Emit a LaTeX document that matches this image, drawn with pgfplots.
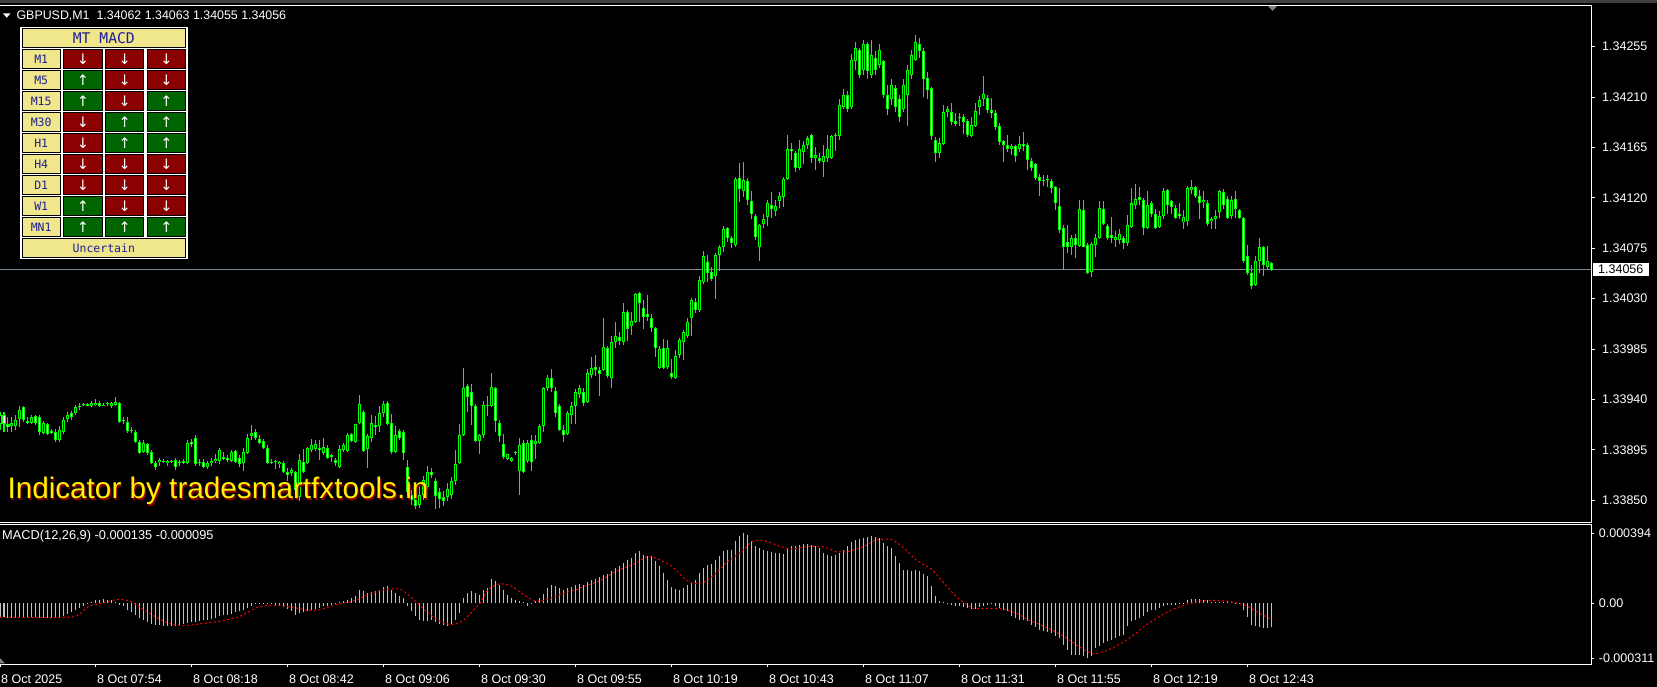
\documentclass[border=0pt]{standalone}
\usepackage{pgfplots}
\pgfplotsset{compat=1.18}
\usepackage{pgfplotstable}
\usepackage{fontspec}
\setmainfont{Liberation Sans}
\newfontfamily\monofont{DejaVu Sans Mono}
\newfontfamily\symfont{DejaVu Sans}
\definecolor{candle}{RGB}{0,255,0}
\definecolor{histo}{RGB}{192,192,192}
\definecolor{pline}{RGB}{119,136,153}
\definecolor{khaki}{RGB}{240,230,140}
\definecolor{dred}{RGB}{139,0,0}
\definecolor{dgreen}{RGB}{0,100,0}
\definecolor{navytxt}{RGB}{30,30,150}
\definecolor{wmshadow}{RGB}{150,0,0}
\definecolor{marker}{RGB}{128,128,128}

\pgfplotstableread{
i o h l c
0 1.33918 1.33929 1.33913 1.33926
1 1.33926 1.33929 1.33911 1.33918
2 1.33918 1.33924 1.33911 1.33915
3 1.33916 1.33924 1.33911 1.33919
4 1.33916 1.33926 1.33913 1.33922
5 1.33923 1.33934 1.33915 1.33931
6 1.33933 1.33934 1.33920 1.33922
7 1.33921 1.33924 1.33918 1.33919
8 1.33919 1.33926 1.33918 1.33924
9 1.33925 1.33926 1.33917 1.33919
10 1.33924 1.33926 1.33908 1.33911
11 1.33910 1.33921 1.33909 1.33919
12 1.33918 1.33919 1.33908 1.33909
13 1.33912 1.33914 1.33909 1.33910
14 1.33911 1.33914 1.33902 1.33904
15 1.33904 1.33916 1.33902 1.33913
16 1.33911 1.33924 1.33909 1.33922
17 1.33923 1.33929 1.33920 1.33926
18 1.33928 1.33930 1.33922 1.33924
19 1.33928 1.33935 1.33926 1.33933
20 1.33933 1.33937 1.33931 1.33934
21 1.33935 1.33937 1.33934 1.33936
22 1.33936 1.33937 1.33934 1.33934
23 1.33934 1.33939 1.33933 1.33937
24 1.33935 1.33940 1.33934 1.33937
25 1.33937 1.33939 1.33933 1.33934
26 1.33934 1.33937 1.33934 1.33935
27 1.33936 1.33938 1.33934 1.33935
28 1.33934 1.33938 1.33932 1.33937
29 1.33935 1.33942 1.33934 1.33938
30 1.33937 1.33938 1.33919 1.33920
31 1.33921 1.33924 1.33918 1.33922
32 1.33920 1.33924 1.33910 1.33912
33 1.33912 1.33915 1.33910 1.33913
34 1.33911 1.33913 1.33901 1.33902
35 1.33902 1.33904 1.33891 1.33892
36 1.33893 1.33904 1.33892 1.33901
37 1.33900 1.33901 1.33890 1.33892
38 1.33893 1.33895 1.33882 1.33883
39 1.33883 1.33885 1.33877 1.33880
40 1.33884 1.33888 1.33881 1.33886
41 1.33885 1.33887 1.33883 1.33884
42 1.33883 1.33886 1.33881 1.33885
43 1.33884 1.33886 1.33883 1.33885
44 1.33886 1.33888 1.33877 1.33880
45 1.33883 1.33886 1.33881 1.33884
46 1.33885 1.33887 1.33882 1.33883
47 1.33883 1.33904 1.33882 1.33901
48 1.33902 1.33905 1.33898 1.33900
49 1.33906 1.33908 1.33881 1.33882
50 1.33883 1.33887 1.33881 1.33884
51 1.33884 1.33887 1.33879 1.33880
52 1.33880 1.33885 1.33878 1.33883
53 1.33883 1.33888 1.33881 1.33885
54 1.33885 1.33891 1.33883 1.33887
55 1.33885 1.33897 1.33882 1.33895
56 1.33889 1.33893 1.33886 1.33887
57 1.33888 1.33890 1.33884 1.33886
58 1.33885 1.33895 1.33884 1.33893
59 1.33894 1.33895 1.33883 1.33884
60 1.33888 1.33890 1.33880 1.33882
61 1.33883 1.33897 1.33876 1.33893
62 1.33892 1.33909 1.33891 1.33906
63 1.33907 1.33917 1.33904 1.33910
64 1.33911 1.33914 1.33904 1.33906
65 1.33905 1.33908 1.33900 1.33901
66 1.33903 1.33905 1.33896 1.33897
67 1.33897 1.33899 1.33882 1.33883
68 1.33883 1.33887 1.33882 1.33884
69 1.33884 1.33886 1.33878 1.33883
70 1.33882 1.33885 1.33879 1.33884
71 1.33883 1.33885 1.33874 1.33875
72 1.33875 1.33879 1.33867 1.33873
73 1.33874 1.33879 1.33872 1.33877
74 1.33875 1.33876 1.33852 1.33859
75 1.33853 1.33891 1.33849 1.33886
76 1.33884 1.33896 1.33874 1.33875
77 1.33883 1.33898 1.33882 1.33897
78 1.33895 1.33905 1.33893 1.33899
79 1.33896 1.33904 1.33894 1.33900
80 1.33897 1.33904 1.33886 1.33895
81 1.33892 1.33906 1.33890 1.33898
82 1.33897 1.33899 1.33887 1.33888
83 1.33889 1.33891 1.33884 1.33888
84 1.33886 1.33888 1.33881 1.33883
85 1.33880 1.33899 1.33879 1.33896
86 1.33895 1.33901 1.33893 1.33899
87 1.33894 1.33910 1.33893 1.33908
88 1.33909 1.33910 1.33902 1.33903
89 1.33902 1.33918 1.33901 1.33918
90 1.33919 1.33944 1.33918 1.33936
91 1.33929 1.33931 1.33893 1.33894
92 1.33896 1.33909 1.33879 1.33907
93 1.33906 1.33926 1.33902 1.33919
94 1.33917 1.33925 1.33908 1.33915
95 1.33916 1.33934 1.33911 1.33928
96 1.33928 1.33939 1.33924 1.33936
97 1.33937 1.33939 1.33917 1.33918
98 1.33919 1.33927 1.33891 1.33893
99 1.33893 1.33916 1.33892 1.33908
100 1.33912 1.33914 1.33904 1.33906
101 1.33911 1.33913 1.33886 1.33892
102 1.33880 1.33886 1.33855 1.33857
103 1.33855 1.33859 1.33846 1.33850
104 1.33855 1.33857 1.33842 1.33845
105 1.33846 1.33863 1.33843 1.33855
106 1.33855 1.33872 1.33850 1.33868
107 1.33862 1.33881 1.33860 1.33875
108 1.33875 1.33879 1.33870 1.33873
109 1.33867 1.33870 1.33842 1.33854
110 1.33857 1.33861 1.33843 1.33851
111 1.33853 1.33858 1.33845 1.33849
112 1.33853 1.33865 1.33849 1.33860
113 1.33855 1.33871 1.33851 1.33867
114 1.33867 1.33895 1.33864 1.33882
115 1.33883 1.33918 1.33882 1.33908
116 1.33908 1.33968 1.33907 1.33950
117 1.33952 1.33954 1.33929 1.33942
118 1.33947 1.33954 1.33917 1.33934
119 1.33934 1.33936 1.33902 1.33903
120 1.33903 1.33909 1.33891 1.33908
121 1.33908 1.33939 1.33906 1.33935
122 1.33935 1.33943 1.33925 1.33934
123 1.33934 1.33964 1.33933 1.33951
124 1.33950 1.33951 1.33911 1.33921
125 1.33919 1.33922 1.33902 1.33907
126 1.33900 1.33909 1.33887 1.33889
127 1.33887 1.33891 1.33886 1.33891
128 1.33885 1.33889 1.33884 1.33888
129 1.33892 1.33894 1.33890 1.33892
130 1.33876 1.33906 1.33855 1.33899
131 1.33901 1.33904 1.33874 1.33875
132 1.33885 1.33904 1.33883 1.33901
133 1.33904 1.33908 1.33876 1.33884
134 1.33900 1.33908 1.33887 1.33903
135 1.33901 1.33918 1.33900 1.33916
136 1.33916 1.33951 1.33911 1.33950
137 1.33950 1.33962 1.33948 1.33959
138 1.33959 1.33967 1.33947 1.33950
139 1.33948 1.33951 1.33924 1.33928
140 1.33934 1.33936 1.33912 1.33913
141 1.33913 1.33917 1.33902 1.33908
142 1.33909 1.33930 1.33908 1.33928
143 1.33926 1.33938 1.33918 1.33934
144 1.33934 1.33949 1.33918 1.33947
145 1.33945 1.33953 1.33941 1.33950
146 1.33947 1.33950 1.33934 1.33937
147 1.33938 1.33967 1.33937 1.33964
148 1.33962 1.33978 1.33959 1.33968
149 1.33969 1.33980 1.33961 1.33966
150 1.33966 1.33969 1.33943 1.33963
151 1.33966 1.34013 1.33965 1.33987
152 1.33986 1.33988 1.33959 1.33961
153 1.33959 1.33997 1.33950 1.33991
154 1.33991 1.34009 1.33986 1.33997
155 1.33996 1.34000 1.33989 1.33992
156 1.33991 1.34026 1.33989 1.34018
157 1.34018 1.34020 1.33992 1.34003
158 1.34006 1.34018 1.33998 1.34010
159 1.34009 1.34035 1.34008 1.34034
160 1.34035 1.34036 1.34009 1.34026
161 1.34022 1.34029 1.34003 1.34014
162 1.34016 1.34033 1.34010 1.34014
163 1.34013 1.34016 1.34000 1.34004
164 1.34004 1.34005 1.33978 1.33986
165 1.33968 1.33988 1.33967 1.33985
166 1.33986 1.33994 1.33967 1.33968
167 1.33969 1.33993 1.33967 1.33986
168 1.33964 1.33976 1.33958 1.33960
169 1.33959 1.33984 1.33958 1.33979
170 1.33980 1.33995 1.33977 1.33993
171 1.33991 1.34002 1.33975 1.34000
172 1.33997 1.34013 1.33995 1.34009
173 1.34013 1.34031 1.33997 1.34029
174 1.34027 1.34031 1.34017 1.34020
175 1.34020 1.34050 1.34018 1.34047
176 1.34045 1.34073 1.34043 1.34068
177 1.34063 1.34069 1.34045 1.34053
178 1.34054 1.34058 1.34046 1.34048
179 1.34050 1.34071 1.34030 1.34069
180 1.34069 1.34078 1.34055 1.34076
181 1.34076 1.34095 1.34072 1.34092
182 1.34093 1.34094 1.34081 1.34084
183 1.34084 1.34086 1.34075 1.34080
184 1.34078 1.34139 1.34076 1.34137
185 1.34138 1.34151 1.34116 1.34128
186 1.34126 1.34152 1.34121 1.34136
187 1.34135 1.34138 1.34114 1.34118
188 1.34117 1.34126 1.34101 1.34106
189 1.34104 1.34106 1.34082 1.34085
190 1.34076 1.34097 1.34064 1.34096
191 1.34097 1.34106 1.34093 1.34101
192 1.34103 1.34118 1.34095 1.34115
193 1.34114 1.34125 1.34102 1.34110
194 1.34108 1.34118 1.34104 1.34113
195 1.34117 1.34125 1.34111 1.34122
196 1.34121 1.34139 1.34112 1.34137
197 1.34137 1.34176 1.34136 1.34164
198 1.34164 1.34169 1.34154 1.34162
199 1.34160 1.34162 1.34143 1.34147
200 1.34147 1.34172 1.34145 1.34164
201 1.34161 1.34171 1.34150 1.34167
202 1.34167 1.34175 1.34164 1.34173
203 1.34176 1.34177 1.34151 1.34156
204 1.34156 1.34165 1.34145 1.34158
205 1.34156 1.34160 1.34151 1.34153
206 1.34152 1.34167 1.34139 1.34157
207 1.34156 1.34176 1.34152 1.34164
208 1.34156 1.34176 1.34155 1.34175
209 1.34175 1.34178 1.34162 1.34176
210 1.34175 1.34208 1.34172 1.34203
211 1.34201 1.34217 1.34199 1.34212
212 1.34212 1.34215 1.34197 1.34199
213 1.34201 1.34248 1.34199 1.34243
214 1.34242 1.34259 1.34234 1.34254
215 1.34252 1.34254 1.34227 1.34230
216 1.34234 1.34261 1.34230 1.34257
217 1.34257 1.34259 1.34226 1.34233
218 1.34230 1.34261 1.34227 1.34248
219 1.34245 1.34251 1.34230 1.34234
220 1.34239 1.34257 1.34236 1.34252
221 1.34242 1.34243 1.34209 1.34212
222 1.34212 1.34221 1.34194 1.34199
223 1.34208 1.34226 1.34203 1.34221
224 1.34218 1.34221 1.34197 1.34201
225 1.34208 1.34212 1.34188 1.34192
226 1.34199 1.34226 1.34197 1.34221
227 1.34212 1.34239 1.34184 1.34234
228 1.34230 1.34252 1.34226 1.34248
229 1.34243 1.34265 1.34242 1.34259
230 1.34257 1.34263 1.34245 1.34251
231 1.34251 1.34254 1.34210 1.34226
232 1.34227 1.34232 1.34208 1.34216
233 1.34218 1.34219 1.34172 1.34175
234 1.34172 1.34174 1.34152 1.34160
235 1.34160 1.34173 1.34156 1.34169
236 1.34168 1.34203 1.34167 1.34197
237 1.34197 1.34202 1.34192 1.34199
238 1.34197 1.34205 1.34185 1.34188
239 1.34189 1.34196 1.34184 1.34186
240 1.34191 1.34196 1.34184 1.34192
241 1.34192 1.34195 1.34177 1.34188
242 1.34189 1.34190 1.34174 1.34176
243 1.34175 1.34192 1.34174 1.34185
244 1.34184 1.34205 1.34183 1.34198
245 1.34201 1.34211 1.34194 1.34207
246 1.34208 1.34229 1.34202 1.34213
247 1.34209 1.34212 1.34196 1.34198
248 1.34198 1.34209 1.34191 1.34196
249 1.34196 1.34198 1.34181 1.34183
250 1.34184 1.34187 1.34167 1.34170
251 1.34171 1.34172 1.34152 1.34167
252 1.34167 1.34176 1.34161 1.34164
253 1.34164 1.34168 1.34158 1.34166
254 1.34166 1.34167 1.34152 1.34157
255 1.34164 1.34175 1.34161 1.34168
256 1.34168 1.34179 1.34162 1.34166
257 1.34167 1.34169 1.34145 1.34154
258 1.34153 1.34156 1.34144 1.34147
259 1.34150 1.34151 1.34136 1.34138
260 1.34139 1.34141 1.34122 1.34135
261 1.34135 1.34140 1.34131 1.34136
262 1.34136 1.34140 1.34130 1.34135
263 1.34135 1.34137 1.34124 1.34129
264 1.34130 1.34131 1.34109 1.34115
265 1.34113 1.34129 1.34089 1.34091
266 1.34093 1.34096 1.34056 1.34076
267 1.34081 1.34096 1.34071 1.34076
268 1.34076 1.34087 1.34069 1.34084
269 1.34084 1.34088 1.34066 1.34078
270 1.34077 1.34118 1.34076 1.34110
271 1.34109 1.34118 1.34076 1.34076
272 1.34078 1.34080 1.34052 1.34053
273 1.34054 1.34081 1.34049 1.34079
274 1.34078 1.34088 1.34067 1.34084
275 1.34084 1.34117 1.34083 1.34111
276 1.34110 1.34117 1.34096 1.34097
277 1.34095 1.34097 1.34082 1.34084
278 1.34087 1.34103 1.34080 1.34084
279 1.34082 1.34090 1.34076 1.34085
280 1.34082 1.34092 1.34079 1.34088
281 1.34084 1.34086 1.34074 1.34080
282 1.34080 1.34105 1.34077 1.34096
283 1.34094 1.34129 1.34093 1.34115
284 1.34114 1.34132 1.34110 1.34119
285 1.34121 1.34130 1.34114 1.34118
286 1.34118 1.34120 1.34087 1.34093
287 1.34093 1.34126 1.34092 1.34114
288 1.34115 1.34117 1.34103 1.34106
289 1.34106 1.34110 1.34092 1.34093
290 1.34094 1.34108 1.34093 1.34104
291 1.34104 1.34129 1.34101 1.34126
292 1.34127 1.34128 1.34106 1.34114
293 1.34117 1.34118 1.34106 1.34112
294 1.34111 1.34114 1.34101 1.34102
295 1.34106 1.34115 1.34101 1.34104
296 1.34098 1.34109 1.34092 1.34103
297 1.34099 1.34131 1.34095 1.34129
298 1.34127 1.34136 1.34123 1.34130
299 1.34130 1.34131 1.34120 1.34122
300 1.34122 1.34127 1.34101 1.34115
301 1.34116 1.34126 1.34111 1.34118
302 1.34115 1.34118 1.34095 1.34097
303 1.34099 1.34103 1.34092 1.34101
304 1.34101 1.34109 1.34092 1.34104
305 1.34107 1.34127 1.34102 1.34126
306 1.34125 1.34128 1.34110 1.34114
307 1.34119 1.34122 1.34101 1.34102
308 1.34104 1.34122 1.34101 1.34118
309 1.34119 1.34126 1.34102 1.34110
310 1.34109 1.34110 1.34101 1.34102
311 1.34102 1.34103 1.34062 1.34064
312 1.34068 1.34078 1.34051 1.34053
313 1.34053 1.34060 1.34039 1.34041
314 1.34042 1.34068 1.34041 1.34064
315 1.34064 1.34084 1.34053 1.34076
316 1.34076 1.34077 1.34050 1.34060
317 1.34058 1.34077 1.34056 1.34064
318 1.34062 1.34063 1.34055 1.34056
}\candles

\pgfplotstableread{
i v
0 -80e-6
1 -81e-6
2 -82e-6
3 -82e-6
4 -83e-6
5 -80e-6
6 -80e-6
7 -80e-6
8 -79e-6
9 -79e-6
10 -82e-6
11 -83e-6
12 -84e-6
13 -84e-6
14 -85e-6
15 -84e-6
16 -72e-6
17 -60e-6
18 -50e-6
19 -38e-6
20 -26e-6
21 -14e-6
22 -6e-6
23 8e-6
24 15e-6
25 19e-6
26 23e-6
27 19e-6
28 15e-6
29 8e-6
30 -9e-6
31 -19e-6
32 -38e-6
33 -53e-6
34 -66e-6
35 -85e-6
36 -98e-6
37 -109e-6
38 -117e-6
39 -122e-6
40 -126e-6
41 -128e-6
42 -132e-6
43 -132e-6
44 -128e-6
45 -124e-6
46 -120e-6
47 -113e-6
48 -109e-6
49 -105e-6
50 -102e-6
51 -98e-6
52 -94e-6
53 -88e-6
54 -85e-6
55 -75e-6
56 -70e-6
57 -66e-6
58 -60e-6
59 -53e-6
60 -47e-6
61 -41e-6
62 -28e-6
63 -15e-6
64 -8e-6
65 -4e-6
66 -2e-6
67 -6e-6
68 -8e-6
69 -11e-6
70 -15e-6
71 -23e-6
72 -34e-6
73 -47e-6
74 -66e-6
75 -56e-6
76 -53e-6
77 -47e-6
78 -41e-6
79 -34e-6
80 -26e-6
81 -19e-6
82 -15e-6
83 -11e-6
84 -6e-6
85 4e-6
86 9e-6
87 19e-6
88 28e-6
89 38e-6
90 71e-6
91 66e-6
92 56e-6
93 60e-6
94 66e-6
95 75e-6
96 90e-6
97 94e-6
98 75e-6
99 56e-6
100 41e-6
101 28e-6
102 -19e-6
103 -47e-6
104 -75e-6
105 -94e-6
106 -103e-6
107 -103e-6
108 -98e-6
109 -109e-6
110 -117e-6
111 -124e-6
112 -128e-6
113 -117e-6
114 -94e-6
115 -56e-6
116 28e-6
117 56e-6
118 66e-6
119 56e-6
120 47e-6
121 75e-6
122 85e-6
123 135e-6
124 122e-6
125 103e-6
126 75e-6
127 47e-6
128 28e-6
129 19e-6
130 9e-6
131 6e-6
132 -15e-6
133 -4e-6
134 9e-6
135 28e-6
136 53e-6
137 85e-6
138 103e-6
139 98e-6
140 85e-6
141 75e-6
142 85e-6
143 90e-6
144 103e-6
145 109e-6
146 103e-6
147 117e-6
148 128e-6
149 135e-6
150 147e-6
151 160e-6
152 165e-6
153 179e-6
154 197e-6
155 207e-6
156 226e-6
157 241e-6
158 254e-6
159 282e-6
160 291e-6
161 273e-6
162 267e-6
163 263e-6
164 235e-6
165 207e-6
166 169e-6
167 132e-6
168 90e-6
169 79e-6
170 75e-6
171 85e-6
172 103e-6
173 113e-6
174 132e-6
175 169e-6
176 197e-6
177 216e-6
178 222e-6
179 244e-6
180 263e-6
181 291e-6
182 297e-6
183 301e-6
184 348e-6
185 376e-6
186 394e-6
187 385e-6
188 348e-6
189 320e-6
190 310e-6
191 301e-6
192 291e-6
193 286e-6
194 282e-6
195 282e-6
196 278e-6
197 310e-6
198 320e-6
199 323e-6
200 329e-6
201 333e-6
202 335e-6
203 329e-6
204 323e-6
205 310e-6
206 282e-6
207 273e-6
208 267e-6
209 273e-6
210 282e-6
211 301e-6
212 320e-6
213 342e-6
214 357e-6
215 361e-6
216 367e-6
217 372e-6
218 376e-6
219 370e-6
220 367e-6
221 338e-6
222 320e-6
223 310e-6
224 263e-6
225 226e-6
226 188e-6
227 184e-6
228 179e-6
229 188e-6
230 179e-6
231 165e-6
232 150e-6
233 94e-6
234 38e-6
235 9e-6
236 4e-6
237 -6e-6
238 -9e-6
239 -15e-6
240 -19e-6
241 -23e-6
242 -28e-6
243 -34e-6
244 -32e-6
245 -23e-6
246 -15e-6
247 -9e-6
248 -6e-6
249 -15e-6
250 -28e-6
251 -38e-6
252 -47e-6
253 -71e-6
254 -85e-6
255 -94e-6
256 -98e-6
257 -103e-6
258 -122e-6
259 -135e-6
260 -150e-6
261 -160e-6
262 -165e-6
263 -169e-6
264 -184e-6
265 -197e-6
266 -235e-6
267 -263e-6
268 -291e-6
269 -295e-6
270 -291e-6
271 -300e-6
272 -311e-6
273 -300e-6
274 -254e-6
275 -241e-6
276 -226e-6
277 -216e-6
278 -207e-6
279 -197e-6
280 -188e-6
281 -179e-6
282 -132e-6
283 -103e-6
284 -94e-6
285 -85e-6
286 -75e-6
287 -51e-6
288 -41e-6
289 -38e-6
290 -28e-6
291 -19e-6
292 -13e-6
293 -9e-6
294 -9e-6
295 -6e-6
296 -4e-6
297 15e-6
298 23e-6
299 23e-6
300 23e-6
301 19e-6
302 15e-6
303 8e-6
304 6e-6
305 6e-6
306 4e-6
307 4e-6
308 4e-6
309 2e-6
310 2e-6
311 -38e-6
312 -81e-6
313 -122e-6
314 -132e-6
315 -135e-6
316 -141e-6
317 -143e-6
318 -135e-6
}\macd

\newcommand{\acell}[3]{%
  \if u#1\def\cf{dgreen}\def\sy{↑}\else\def\cf{dred}\def\sy{↓}\fi
  \filldraw[fill=\cf, draw=black, line width=1pt] (#2,\yb) rectangle (#3,\yt);
  \node[text=white, inner sep=0pt, font=\symfont\fontsize{14.5}{15}\selectfont] at ({(#2+#3)/2},\ym) {\sy};
}

\begin{document}
\begin{tikzpicture}[x=1pt,y=1pt]
\fill[black] (0,0) rectangle (1657,687);
\fill[black!75] (0,684) rectangle (1657,687);

% ---------------- price panel ----------------
\begin{axis}[
  name=main, at={(0pt,165pt)}, anchor=south west,
  scale only axis, width=1591pt, height=517pt,
  xmin=0, xmax=397.75, ymin=1.338306, ymax=1.342922,
  axis line style={draw=none},
  xtick=\empty,
  ytick={1.33850,1.33895,1.33940,1.33985,1.34030,1.34075,1.34120,1.34165,1.34210,1.34255},
  yticklabels={1.33850,1.33895,1.33940,1.33985,1.34030,1.34075,1.34120,1.34165,1.34210,1.34255},
  ytick pos=right, yticklabel pos=right,
  tick align=outside, major tick length=4pt,
  tick style={white, line width=1pt},
  yticklabel style={anchor=west, inner sep=0pt, xshift=7pt, text=white, font=\fontsize{12.5}{15}\selectfont},
  scaled y ticks=false,
  extra y ticks={1.34056}, extra y tick labels={1.34056},
  extra y tick style={major tick length=0pt, grid=major, grid style={pline, line width=1pt},
     yticklabel style={fill=white, text=black, inner xsep=5.3pt, inner ysep=1.7pt, xshift=-5.3pt}},
]
\addplot [draw=none, mark=none, forget plot, error bars/.cd, y dir=plus, y explicit, error mark=none,
  error bar style={draw=candle, line width=1pt}]
  table [x=i, y=l, y error plus expr={\thisrow{h}-\thisrow{l}}] {\candles};
\addplot [draw=none, mark=none, forget plot, error bars/.cd, y dir=plus, y explicit, error mark=none,
  error bar style={draw=candle, line width=3pt}]
  table [x=i, y expr={min(\thisrow{o},\thisrow{c})}, y error plus expr={max(abs(\thisrow{c}-\thisrow{o}),0.000009)}] {\candles};
\addplot [draw=none, mark=none, forget plot, error bars/.cd, y dir=plus, y explicit, error mark=none,
  error bar style={draw=white, line width=1pt}]
  table [x=i, y expr={\thisrow{c}+0.000009}, y error plus expr={max(0,\thisrow{o}-\thisrow{c}-0.000018)}] {\candles};
\addplot [draw=none, mark=none, forget plot, error bars/.cd, y dir=plus, y explicit, error mark=none,
  error bar style={draw=black, line width=1pt}]
  table [x=i, y expr={\thisrow{o}+0.000009}, y error plus expr={max(0,\thisrow{c}-\thisrow{o}-0.000018)}] {\candles};
\end{axis}

% ---------------- MACD panel ----------------
\begin{axis}[
  name=macd, at={(0pt,23pt)}, anchor=south west,
  scale only axis, width=1591pt, height=140pt,
  xmin=0, xmax=397.75, ymin=-0.000344, ymax=0.000446,
  axis line style={draw=none},
  xtick={0,24,...,312},
  xticklabels={8 Oct 2025,8 Oct 07:54,8 Oct 08:18,8 Oct 08:42,8 Oct 09:06,8 Oct 09:30,8 Oct 09:55,8 Oct 10:19,8 Oct 10:43,8 Oct 11:07,8 Oct 11:31,8 Oct 11:55,8 Oct 12:19,8 Oct 12:43},
  xtick pos=bottom, xticklabel pos=bottom,
  xticklabel style={anchor=north west, inner sep=0pt, xshift=1pt, yshift=-7.4pt, text=white, font=\fontsize{12.5}{15}\selectfont},
  ytick={-0.000311,0,0.000394},
  yticklabels={-0.000311,0.00,0.000394},
  ytick pos=right, yticklabel pos=right,
  yticklabel style={anchor=west, inner sep=0pt, xshift=4.7pt, text=white, font=\fontsize{12.5}{15}\selectfont},
  scaled y ticks=false,
  tick align=outside, major tick length=3pt,
  tick style={white, line width=1pt},
]
\addplot [ycomb, draw=histo, line width=1pt, mark=none] table [x=i, y=v] {\macd};
\addplot [red, line width=1pt, dash pattern=on 2pt off 2.5pt, smooth, tension=0.4, mark=none] coordinates {
(0,-79e-6) (18,-79e-6) (22,-19e-6) (25,-4e-6) (29,19e-6) (32,15e-6) (34,-9e-6) (38,-66e-6)
(42,-113e-6) (46,-128e-6) (50,-117e-6) (55,-103e-6) (60,-75e-6) (65,-19e-6) (70,-15e-6)
(74,-28e-6) (77,-41e-6) (80,-38e-6) (84,-9e-6) (88,9e-6) (92,47e-6) (96,75e-6) (100,79e-6)
(103,28e-6) (107,-56e-6) (110,-103e-6) (113,-122e-6) (116,-94e-6) (120,0) (122,75e-6)
(125,109e-6) (128,94e-6) (131,47e-6) (134,9e-6) (137,23e-6) (141,56e-6) (144,75e-6)
(147,103e-6) (150,125e-6) (154,179e-6) (159,226e-6) (162,263e-6) (164,254e-6) (168,207e-6)
(171,141e-6) (173,113e-6) (176,117e-6) (179,169e-6) (182,235e-6) (186,301e-6) (188,348e-6)
(191,353e-6) (195,320e-6) (198,305e-6) (202,320e-6) (206,316e-6) (209,291e-6) (212,291e-6)
(216,320e-6) (219,357e-6) (223,357e-6) (226,310e-6) (229,244e-6) (233,188e-6) (236,113e-6)
(239,38e-6) (243,-28e-6) (246,-30e-6) (250,-32e-6) (254,-56e-6) (257,-94e-6) (262,-141e-6)
(266,-188e-6) (269,-235e-6) (273,-286e-6) (276,-273e-6) (279,-244e-6) (283,-188e-6)
(286,-132e-6) (290,-75e-6) (293,-38e-6) (296,-13e-6) (300,11e-6) (304,15e-6) (307,9e-6)
(311,-9e-6) (314,-47e-6) (318,-95e-6)};
\end{axis}

% frames
\draw[white, line width=1pt] (0,681.7) -- (1591,681.7) -- (1591,164.7) -- (0,164.7);
\draw[white, line width=1pt] (0,162.7) -- (1591,162.7) -- (1591,22.7) -- (0,22.7);
% chart shift markers
\fill[marker] (1268,681) -- (1277,681) -- (1272.5,676) -- cycle;
\fill[marker] (0,23.5) -- (5,23.5) -- (0,29) -- cycle;

% header texts
\fill[white] (3,673.7) -- (10.5,673.7) -- (6.75,669.3) -- cycle;
\node[anchor=base west, inner sep=0pt, text=white, font=\fontsize{12.4}{15}\selectfont] at (16.4,667)
  {GBPUSD,M1\ \ 1.34062 1.34063 1.34055 1.34056};
\node[anchor=base west, inner sep=0pt, text=white, font=\fontsize{12.8}{15}\selectfont] at (2,147)
  {MACD(12,26,9) -0.000135 -0.000095};

% watermark
\node[anchor=base west, inner sep=0pt, text=wmshadow, font=\fontsize{29.7}{32}\selectfont] at (8.5,186.8)
  {Indicator by tradesmartfxtools.in};
\node[anchor=base west, inner sep=0pt, text=yellow, font=\fontsize{29.7}{32}\selectfont] at (7.3,188)
  {Indicator by tradesmartfxtools.in};

% MT MACD panel
\fill[white] (20,428) rectangle (188,660);
\filldraw[fill=khaki, draw=black, line width=1pt] (22.2,639.8) rectangle (185.5,658.2);
\node[text=navytxt, inner sep=0pt, font=\monofont\fontsize{14.7}{15}\selectfont] at (103.85,649) {MT MACD};
\foreach \r/\lab/\a/\b/\c in {0/M1/d/d/d, 1/M5/u/d/d, 2/M15/u/d/u, 3/M30/d/u/u, 4/H1/d/u/u,
                              5/H4/d/d/d, 6/D1/d/d/d, 7/W1/u/d/d, 8/MN1/u/u/u}{
  \pgfmathsetmacro\yt{637.2-21*\r}
  \pgfmathsetmacro\yb{618.5-21*\r}
  \pgfmathsetmacro\ym{(\yt+\yb)/2}
  \filldraw[fill=khaki, draw=black, line width=1pt] (22.2,\yb) rectangle (60.2,\yt);
  \node[text=navytxt, inner sep=0pt, font=\monofont\fontsize{11.5}{12}\selectfont] at (41.2,\ym) {\lab};
  \acell{\a}{63.8}{102.2}
  \acell{\b}{105.5}{143.8}
  \acell{\c}{147.2}{185.5}
}
\filldraw[fill=khaki, draw=black, line width=1pt] (22.2,429.8) rectangle (185.5,448.2);
\node[text=navytxt, inner sep=0pt, font=\monofont\fontsize{11.5}{12}\selectfont] at (103.85,439) {Uncertain};

\pgfresetboundingbox
\path (0,0) rectangle (1657,687);
\end{tikzpicture}
\end{document}
